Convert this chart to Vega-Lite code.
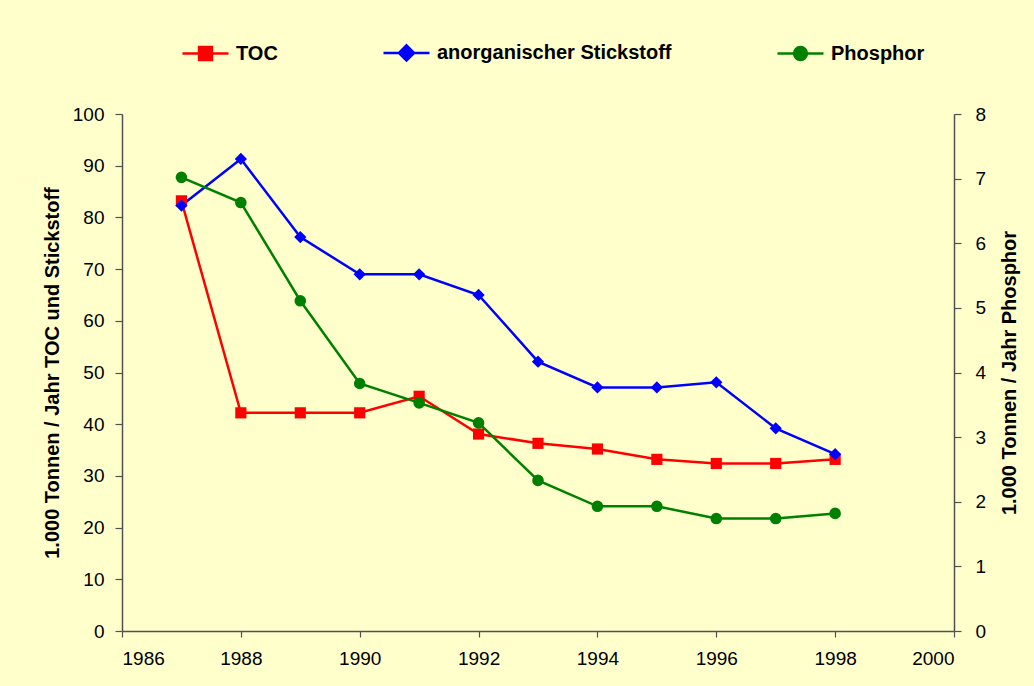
{
  "$schema": "https://vega.github.io/schema/vega-lite/v6.json",
  "width": 832,
  "height": 517,
  "autosize": {"type": "none"},
  "padding": {"left": 122, "top": 114, "right": 80, "bottom": 55},
  "background": "#FFFFCC",
  "config": {
    "view": {"stroke": null},
    "font": "Liberation Sans",
    "axis": {
      "labelFont": "Liberation Sans",
      "labelFontSize": 19,
      "labelColor": "#000000",
      "domainColor": "#505050",
      "domainWidth": 1.5,
      "tickColor": "#505050",
      "tickWidth": 1.2,
      "grid": false,
      "titleFont": "Liberation Sans",
      "titleFontSize": 20,
      "titleFontWeight": "bold",
      "titleColor": "#000000"
    },
    "legend": {
      "orient": "none",
      "direction": "horizontal",
      "legendX": 59,
      "legendY": -86,
      "padding": 0,
      "columnPadding": 100,
      "labelOffset": 6,
      "labelFont": "Liberation Sans",
      "labelFontSize": 20,
      "labelFontWeight": "bold",
      "labelColor": "#000000",
      "labelLimit": 400,
      "symbolSize": 2116,
      "symbolStrokeWidth": 2.5,
      "title": null
    }
  },
  "data": {
    "values": [
      {"year": 1987, "series": "TOC", "value": 83.2},
      {"year": 1988, "series": "TOC", "value": 42.2},
      {"year": 1989, "series": "TOC", "value": 42.2},
      {"year": 1990, "series": "TOC", "value": 42.2},
      {"year": 1991, "series": "TOC", "value": 45.4},
      {"year": 1992, "series": "TOC", "value": 38.1},
      {"year": 1993, "series": "TOC", "value": 36.3},
      {"year": 1994, "series": "TOC", "value": 35.2},
      {"year": 1995, "series": "TOC", "value": 33.2},
      {"year": 1996, "series": "TOC", "value": 32.4},
      {"year": 1997, "series": "TOC", "value": 32.4},
      {"year": 1998, "series": "TOC", "value": 33.2},
      {"year": 1987, "series": "anorganischer Stickstoff", "value": 82.3},
      {"year": 1988, "series": "anorganischer Stickstoff", "value": 91.3},
      {"year": 1989, "series": "anorganischer Stickstoff", "value": 76.2},
      {"year": 1990, "series": "anorganischer Stickstoff", "value": 69.0},
      {"year": 1991, "series": "anorganischer Stickstoff", "value": 69.0},
      {"year": 1992, "series": "anorganischer Stickstoff", "value": 65.0},
      {"year": 1993, "series": "anorganischer Stickstoff", "value": 52.1},
      {"year": 1994, "series": "anorganischer Stickstoff", "value": 47.1},
      {"year": 1995, "series": "anorganischer Stickstoff", "value": 47.1},
      {"year": 1996, "series": "anorganischer Stickstoff", "value": 48.1},
      {"year": 1997, "series": "anorganischer Stickstoff", "value": 39.2},
      {"year": 1998, "series": "anorganischer Stickstoff", "value": 34.2},
      {"year": 1987, "series": "Phosphor", "value": 7.02},
      {"year": 1988, "series": "Phosphor", "value": 6.63},
      {"year": 1989, "series": "Phosphor", "value": 5.11},
      {"year": 1990, "series": "Phosphor", "value": 3.83},
      {"year": 1991, "series": "Phosphor", "value": 3.53},
      {"year": 1992, "series": "Phosphor", "value": 3.22},
      {"year": 1993, "series": "Phosphor", "value": 2.33},
      {"year": 1994, "series": "Phosphor", "value": 1.93},
      {"year": 1995, "series": "Phosphor", "value": 1.93},
      {"year": 1996, "series": "Phosphor", "value": 1.74},
      {"year": 1997, "series": "Phosphor", "value": 1.74},
      {"year": 1998, "series": "Phosphor", "value": 1.82}
    ]
  },
  "encoding": {
    "x": {
      "field": "year",
      "type": "quantitative",
      "scale": {"domain": [1986, 2000], "nice": false, "zero": false},
      "axis": {
        "title": null,
        "values": [1986, 1988, 1990, 1992, 1994, 1996, 1998, 2000],
        "format": "d",
        "tickSize": 6,
        "labelPadding": 12
      }
    },
    "color": {
      "field": "series",
      "type": "nominal",
      "scale": {
        "domain": ["TOC", "anorganischer Stickstoff", "Phosphor"],
        "range": ["#FF0000", "#0000FF", "#008000"]
      },
      "legend": {
        "encode": {
          "symbols": {
            "update": {
              "shape": {"signal": "datum.value === 'TOC' ? 'M-1,0H1M-0.28,-0.28H0.28V0.28H-0.28Z' : datum.value === 'Phosphor' ? 'M-1,0H1M0.28,0A0.28,0.28,0,1,1,-0.28,0A0.28,0.28,0,1,1,0.28,0Z' : 'M-1,0H1M0,-0.33L0.33,0L0,0.33L-0.33,0Z'"},
              "fill": {"signal": "scale('color', datum.value)"},
              "stroke": {"signal": "scale('color', datum.value)"},
              "strokeWidth": {"value": 2.5},
              "size": {"value": 2116},
              "opacity": {"value": 1}
            }
          }
        }
      }
    }
  },
  "layer": [
    {
      "transform": [{"filter": "datum.series !== 'Phosphor'"}],
      "encoding": {
        "y": {
          "field": "value",
          "type": "quantitative",
          "scale": {"domain": [0, 100], "nice": false},
          "axis": {
            "orient": "left",
            "title": "1.000 Tonnen / Jahr TOC und Stickstoff",
            "values": [0, 10, 20, 30, 40, 50, 60, 70, 80, 90, 100],
            "tickSize": 7,
            "labelPadding": 11,
            "titlePadding": 10
          }
        }
      },
      "layer": [
        {"mark": {"type": "line", "strokeWidth": 2.5}},
        {
          "transform": [{"filter": "datum.series === 'TOC'"}],
          "mark": {"type": "point", "shape": "square", "filled": true, "size": 125, "opacity": 1}
        },
        {
          "transform": [{"filter": "datum.series === 'anorganischer Stickstoff'"}],
          "mark": {"type": "point", "shape": "diamond", "filled": true, "size": 150, "opacity": 1}
        }
      ]
    },
    {
      "transform": [{"filter": "datum.series === 'Phosphor'"}],
      "encoding": {
        "y": {
          "field": "value",
          "type": "quantitative",
          "scale": {"domain": [0, 8], "nice": false},
          "axis": {
            "orient": "right",
            "title": "1.000 Tonnen / Jahr Phosphor",
            "values": [0, 1, 2, 3, 4, 5, 6, 7, 8],
            "tickSize": 7,
            "labelPadding": 14,
            "titleAngle": 270,
            "titleBaseline": "top",
            "titlePadding": 14
          }
        }
      },
      "layer": [
        {"mark": {"type": "line", "strokeWidth": 2.5}},
        {
          "mark": {"type": "point", "shape": "circle", "filled": true, "size": 135, "opacity": 1}
        }
      ]
    }
  ],
  "resolve": {"scale": {"y": "independent"}, "axis": {"y": "independent"}}
}
